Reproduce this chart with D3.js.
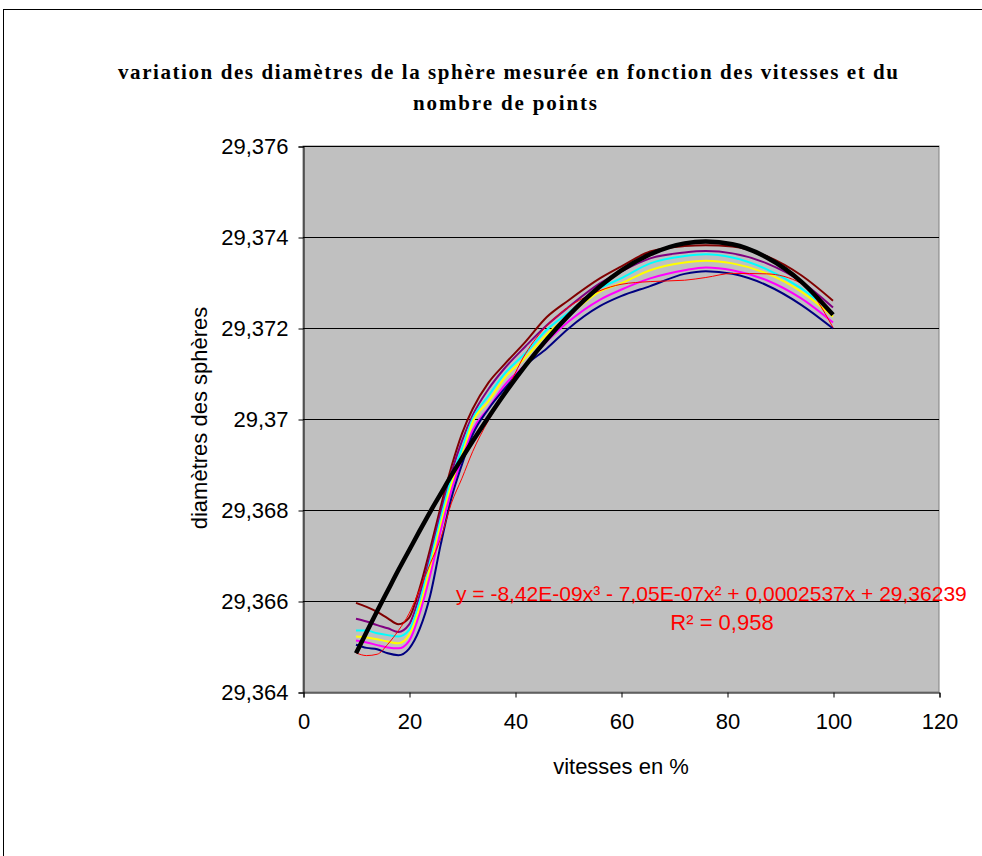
<!DOCTYPE html>
<html>
<head>
<meta charset="utf-8">
<script src="https://cdn.jsdelivr.net/npm/d3@7/dist/d3.min.js"></script>
<style>
  html, body { margin: 0; padding: 0; background: #ffffff; }
  svg { display: block; }
</style>
</head>
<body>
<svg id="chart" width="982" height="856"></svg>
<script>
// ---------------- DATA ----------------
const titleLines = ["variation des diamètres de la sphère mesurée en fonction des vitesses et du", "nombre de points"];
const xAxisTitle = "vitesses en %";
const yAxisTitle = "diamètres des sphères";
const xTicks = [0, 20, 40, 60, 80, 100, 120];
const yTicks = [29.364, 29.366, 29.368, 29.37, 29.372, 29.374, 29.376];
const yTickLabels = ["29,364", "29,366", "29,368", "29,37", "29,372", "29,374", "29,376"];
const equationText = "y = -8,42E-09x³ - 7,05E-07x² + 0,0002537x + 29,36239";
const r2Text = "R² = 0,958";

const speeds = [10, 12, 14, 16, 18, 20, 22, 24, 26, 28, 30, 32, 35, 38, 42, 46, 50, 56, 60, 65.5, 72, 76, 81, 87.5, 94, 100];

const serieMaroon = [29.36596, 29.36587, 29.36576, 29.36562, 29.36549, 29.36563, 29.36628, 29.36715, 29.36808, 29.36895, 29.36968, 29.37022, 29.37080, 29.37120, 29.37170, 29.37224, 29.37260, 29.37309, 29.37335, 29.37368, 29.37380, 29.37382, 29.37379, 29.37358, 29.37316, 29.37260];
const seriePurple = [29.36561, 29.36555, 29.36547, 29.36540, 29.36532, 29.36548, 29.36612, 29.36701, 29.36795, 29.36882, 29.36952, 29.37008, 29.37066, 29.37111, 29.37160, 29.37206, 29.37245, 29.37298, 29.37324, 29.37353, 29.37366, 29.37369, 29.37364, 29.37342, 29.37302, 29.37245];
const serieCyan = [29.36535, 29.36535, 29.36529, 29.36525, 29.36522, 29.36536, 29.36598, 29.36688, 29.36782, 29.36869, 29.36935, 29.37000, 29.37051, 29.37099, 29.37145, 29.37196, 29.37233, 29.37287, 29.37309, 29.37342, 29.37358, 29.37362, 29.37355, 29.37329, 29.37287, 29.37232];
const serieYellow = [29.36522, 29.36520, 29.36516, 29.36511, 29.36507, 29.36525, 29.36585, 29.36675, 29.36769, 29.36856, 29.36920, 29.36993, 29.37039, 29.37090, 29.37135, 29.37186, 29.37226, 29.37280, 29.37298, 29.37327, 29.37344, 29.37348, 29.37342, 29.37320, 29.37280, 29.37225];
const serieMagenta = [29.36513, 29.36509, 29.36503, 29.36498, 29.36496, 29.36512, 29.36572, 29.36657, 29.36755, 29.36843, 29.36912, 29.36975, 29.37024, 29.37074, 29.37120, 29.37170, 29.37213, 29.37262, 29.37284, 29.37309, 29.37327, 29.37333, 29.37327, 29.37305, 29.37265, 29.37212];
const serieNavy = [29.36504, 29.36497, 29.36494, 29.36485, 29.36481, 29.36495, 29.36538, 29.36612, 29.36725, 29.36826, 29.36900, 29.36965, 29.37022, 29.37066, 29.37118, 29.37155, 29.37198, 29.37248, 29.37270, 29.37292, 29.37319, 29.37325, 29.37319, 29.37294, 29.37251, 29.37199];
const serieRed = [29.36486, 29.36480, 29.36483, 29.36505, 29.36535, 29.36572, 29.36625, 29.36682, 29.36738, 29.36815, 29.36870, 29.36928, 29.36997, 29.37054, 29.37144, 29.37205, 29.37245, 29.37282, 29.37296, 29.37302, 29.37305, 29.37311, 29.37320, 29.37319, 29.37298, 29.37201];
const serieBlack = [29.36485, 29.36532, 29.36578, 29.36623, 29.36668, 29.36711, 29.36754, 29.36796, 29.36836, 29.36876, 29.36914, 29.36951, 29.37004, 29.37055, 29.37118, 29.37175, 29.37226, 29.37291, 29.37326, 29.37362, 29.37386, 29.37390, 29.37384, 29.37355, 29.37302, 29.37229];

const seriesList = [
  { values: serieMaroon, color: "#800000", width: 2 },
  { values: seriePurple, color: "#800080", width: 2 },
  { values: serieCyan, color: "#00FFFF", width: 2 },
  { values: serieYellow, color: "#FFFF00", width: 2 },
  { values: serieMagenta, color: "#FF00FF", width: 2 },
  { values: serieNavy, color: "#000080", width: 2 },
  { values: serieRed, color: "#FF0000", width: 1 },
  { values: serieBlack, color: "#000000", width: 4.5 }
];

// ---------------- LAYOUT ----------------
const svg = d3.select("#chart");
const plot = { left: 303, right: 939, top: 146, bottom: 692 };
const sansFont = "'Liberation Sans', Arial, sans-serif";
const serifFont = "'Liberation Serif', 'Times New Roman', serif";
const fontSize = "22px";

// outer chart border
svg.append("rect")
  .attr("x", 3.5).attr("y", 9.5)
  .attr("width", 1100).attr("height", 1000)
  .attr("fill", "#ffffff").attr("stroke", "#000000").attr("stroke-width", 1);

const x = d3.scaleLinear().domain([0, 120]).range([plot.left, plot.right]);
const y = d3.scaleLinear().domain([29.364, 29.376]).range([plot.bottom, plot.top]);

// plot area
svg.append("rect")
  .attr("x", plot.left).attr("y", plot.top)
  .attr("width", plot.right - plot.left).attr("height", plot.bottom - plot.top)
  .attr("fill", "#C0C0C0").attr("stroke", "#808080").attr("stroke-width", 1);

// gridlines
svg.append("g").selectAll("line").data(yTicks.slice(1)).join("line")
  .attr("x1", plot.left).attr("x2", plot.right)
  .attr("y1", d => Math.round(y(d)) + 0.5).attr("y2", d => Math.round(y(d)) + 0.5)
  .attr("stroke", "#000000").attr("stroke-width", 1);

// axes
const yAxis = d3.axisLeft(y).tickValues(yTicks).tickSize(5).tickFormat((d, i) => yTickLabels[i]);
const gy = svg.append("g").attr("transform", `translate(${plot.left + 0.5},0.5)`).call(yAxis);
gy.select(".domain").attr("stroke", "#000000");
gy.selectAll(".tick line").attr("stroke", "#000000");
gy.selectAll(".tick text")
  .attr("x", -15)
  .style("font-family", sansFont).style("font-size", fontSize).attr("fill", "#000000");

const xAxis = d3.axisBottom(x).tickValues(xTicks).tickSize(5).tickFormat(d3.format("d"));
const gx = svg.append("g").attr("transform", `translate(0.5,${plot.bottom + 0.5})`).call(xAxis);
gx.select(".domain").attr("stroke", "#000000");
gx.selectAll(".tick line").attr("stroke", "#000000");
gx.selectAll(".tick text")
  .attr("y", 21)
  .style("font-family", sansFont).style("font-size", fontSize).attr("fill", "#000000");

// series lines
const line = d3.line()
  .x((d, i) => x(speeds[i]))
  .y(d => y(d))
  .curve(d3.curveMonotoneX);

svg.append("g").selectAll("path").data(seriesList).join("path")
  .attr("d", s => line(s.values))
  .attr("fill", "none")
  .attr("stroke", s => s.color)
  .attr("stroke-width", s => s.width)
  .attr("stroke-linejoin", "round");

// title
svg.append("text")
  .attr("x", 508).attr("y", 79)
  .attr("text-anchor", "middle")
  .attr("textLength", 780).attr("lengthAdjust", "spacing")
  .style("font-family", serifFont).style("font-weight", "bold").style("font-size", "21px")
  .text(titleLines[0]);
svg.append("text")
  .attr("x", 505).attr("y", 110)
  .attr("text-anchor", "middle")
  .attr("textLength", 184).attr("lengthAdjust", "spacing")
  .style("font-family", serifFont).style("font-weight", "bold").style("font-size", "21px")
  .text(titleLines[1]);

// axis titles
svg.append("text")
  .attr("x", 621).attr("y", 774)
  .attr("text-anchor", "middle")
  .style("font-family", sansFont).style("font-size", fontSize)
  .text(xAxisTitle);
svg.append("text")
  .attr("transform", "translate(207,418) rotate(-90)")
  .attr("text-anchor", "middle")
  .style("font-family", sansFont).style("font-size", fontSize)
  .text(yAxisTitle);

// trendline equation (slightly smaller so it stays inside the picture)
svg.append("text")
  .attr("x", 456).attr("y", 601)
  .attr("fill", "#FF0000")
  .style("font-family", sansFont).style("font-size", "21px")
  .text(equationText);
svg.append("text")
  .attr("x", 722).attr("y", 630)
  .attr("text-anchor", "middle")
  .attr("fill", "#FF0000")
  .style("font-family", sansFont).style("font-size", fontSize)
  .text(r2Text);
</script>
</body>
</html>
